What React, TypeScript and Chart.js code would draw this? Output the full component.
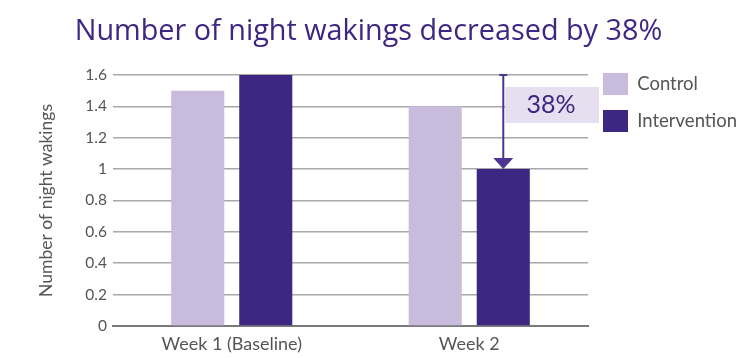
import React, { useEffect, useRef } from "react";
import { Chart, registerables } from "chart.js";

Chart.register(...registerables);

const categories = ["Week 1 (Baseline)", "Week 2"];
const seriesNames = ["Control", "Intervention"];
const controlValues = [1.5, 1.4];
const interventionValues = [1.6, 1.0];
const yMin = 0;
const yMax = 1.6;
const yStep = 0.2;
const titleText = "Number of night wakings decreased by 38%";
const yAxisTitle = "Number of night wakings";
const changeLabel = "38%";

const FONT = "Lato, 'Noto Sans', sans-serif";
const TITLE_FONT = "'Open Sans', Lato, sans-serif";
const PURPLE = "#3d2783";
const LILAC = "#c9bbdc";
const GREY_TEXT = "#555555";

const arrowPlugin = {
  id: "changeArrow",
  afterDatasetsDraw(chart: any) {
    const { ctx, chartArea } = chart;
    const y = chart.scales.y;
    const bar = chart.getDatasetMeta(1).data[1];
    if (!bar) return;
    const x = bar.x;
    const yTop = y.getPixelForValue(interventionValues[0]);
    const yBot = y.getPixelForValue(interventionValues[1]);
    ctx.save();
    // label box
    const boxTop = y.getPixelForValue(1.523);
    const boxBot = y.getPixelForValue(1.294);
    const boxLeft = x + 2;
    const boxRight = chartArea.right + 11;
    ctx.fillStyle = "#e6dff0";
    ctx.fillRect(boxLeft, boxTop, boxRight - boxLeft, boxBot - boxTop);
    // vertical line
    ctx.strokeStyle = "#4b3591";
    ctx.lineWidth = 2;
    ctx.beginPath();
    ctx.moveTo(x, yTop);
    ctx.lineTo(x, yBot - 10);
    ctx.stroke();
    // top cap
    ctx.beginPath();
    ctx.moveTo(x - 4, yTop);
    ctx.lineTo(x + 4, yTop);
    ctx.stroke();
    // arrow head
    ctx.fillStyle = "#4b3591";
    ctx.beginPath();
    ctx.moveTo(x - 10, yBot - 11);
    ctx.lineTo(x + 10, yBot - 11);
    ctx.lineTo(x, yBot);
    ctx.closePath();
    ctx.fill();
    // label text
    ctx.fillStyle = PURPLE;
    ctx.font = `400 25px ${FONT}`;
    ctx.textAlign = "center";
    ctx.textBaseline = "middle";
    ctx.fillText(changeLabel, (boxLeft + boxRight) / 2 - 1, (boxTop + boxBot) / 2);
    ctx.restore();
  },
};

export default function App() {
  const ref = useRef<HTMLCanvasElement>(null);
  useEffect(() => {
    const chart = new Chart(ref.current as HTMLCanvasElement, {
      type: "bar",
      data: {
        labels: categories,
        datasets: [
          {
            label: seriesNames[0],
            data: controlValues,
            backgroundColor: LILAC,
            borderWidth: 0,
            categoryPercentage: 0.573,
            barPercentage: 0.78,
          },
          {
            label: seriesNames[1],
            data: interventionValues,
            backgroundColor: PURPLE,
            borderWidth: 0,
            categoryPercentage: 0.573,
            barPercentage: 0.78,
          },
        ],
      },
      options: {
        responsive: true,
        maintainAspectRatio: false,
        animation: false,
        layout: { padding: { left: 0, right: 13, top: 0, bottom: 0 } },
        plugins: {
          tooltip: { enabled: false },
          title: {
            display: true,
            text: titleText,
            color: PURPLE,
            font: { family: TITLE_FONT, size: 28.8, weight: "400" },
            padding: { top: 15, bottom: 25.4 },
          },
          legend: {
            position: "right",
            align: "start",
            fullSize: true,
            maxWidth: 149,
            title: {
              display: true,
              text: "",
              font: { size: 10 },
              padding: { top: 46, bottom: 0 },
            },
            labels: {
              boxWidth: 25,
              boxHeight: 22,
              padding: 15,
              color: GREY_TEXT,
              font: { family: FONT, size: 18.5, weight: "400" },
            },
          },
        },
        scales: {
          x: {
            grid: { display: false, drawTicks: false },
            border: { display: true, color: "#7a7a7a", width: 2 },
            ticks: {
              color: GREY_TEXT,
              font: { family: FONT, size: 18, weight: "400" },
              padding: 7,
            },
            afterFit(scale: any) {
              scale.height = 32;
            },
          },
          y: {
            min: yMin,
            max: yMax,
            grid: { color: "#a8a8a8", lineWidth: 1.5, drawTicks: false },
            border: { display: false },
            ticks: {
              stepSize: yStep,
              color: GREY_TEXT,
              font: { family: FONT, size: 15.5, weight: "400" },
              padding: 6,
              callback: (v: any) => String(Number(Number(v).toFixed(1))),
            },
            title: {
              display: true,
              text: yAxisTitle,
              color: GREY_TEXT,
              font: { family: FONT, size: 17.5, weight: "400" },
              padding: { top: 36, bottom: 0 },
            },
            afterFit(scale: any) {
              scale.width = 113;
            },
          },
        },
      },
      plugins: [arrowPlugin],
    });
    return () => chart.destroy();
  }, []);
  return (
    <div style={{ position: "absolute", left: 0, top: 0, width: 750, height: 358 }}>
      <canvas ref={ref} />
    </div>
  );
}
